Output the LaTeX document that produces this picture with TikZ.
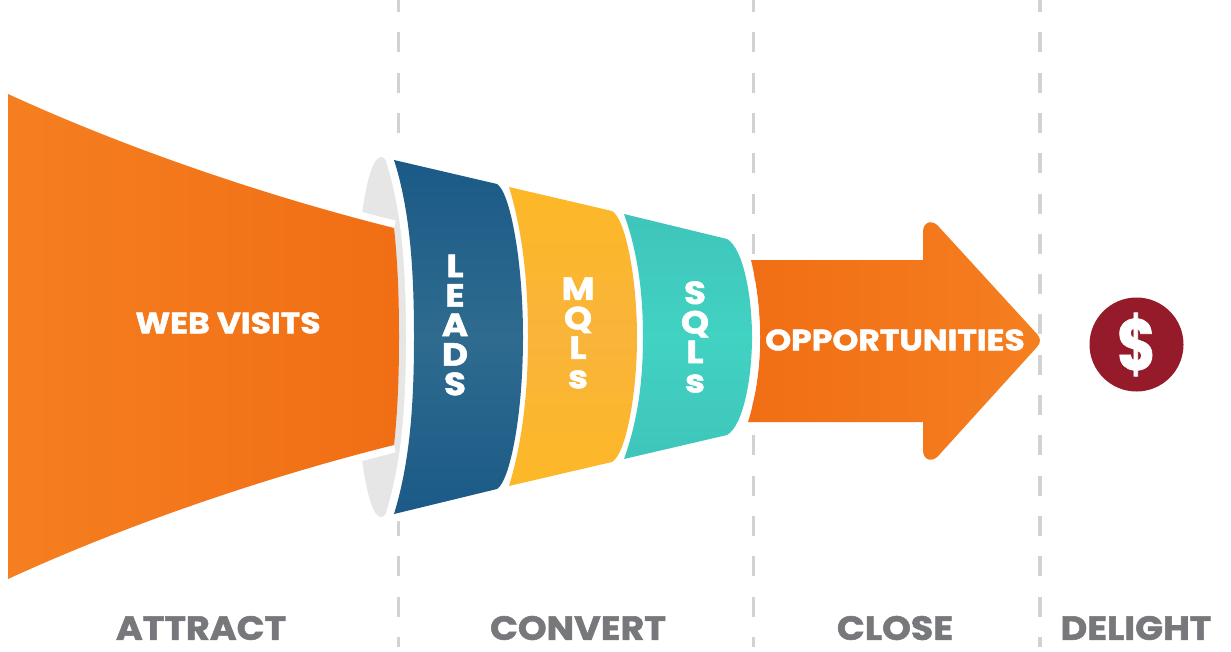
\documentclass[tikz,border=0pt]{standalone}
\usepackage{fontspec}
\newfontfamily\funnelfont[FakeBold=1.6,FakeStretch=1.12]{Poppins}
\newfontfamily\stagefont[FakeBold=1.6,FakeStretch=1.09]{Poppins}
\newfontfamily\dollarfont[FakeBold=1,FakeStretch=0.82]{Poppins}
\definecolor{visitsleft}{HTML}{F57F20}
\definecolor{visitsright}{HTML}{F16E14}
\definecolor{leadsedge}{HTML}{1B5A87}
\definecolor{leadsmid}{HTML}{2F6B8F}
\definecolor{mqledge}{HTML}{FDB827}
\definecolor{mqlmid}{HTML}{F9B43A}
\definecolor{sqledge}{HTML}{3FC5BB}
\definecolor{sqlmid}{HTML}{41D2C2}
\definecolor{rimgray}{HTML}{E6E6E6}
\definecolor{dashgray}{HTML}{D2D2D2}
\definecolor{stagegray}{HTML}{77787B}
\definecolor{dollarred}{HTML}{951B2A}
\tikzset{
  gapline/.style={preaction={draw=white,line width=16pt,line join=round}},
  funneltext/.style={text=white,inner sep=0pt,font=\funnelfont\bfseries\fontsize{29.5}{29.5}\selectfont},
  stacktext/.style={text=white,inner sep=0pt,align=center,font=\funnelfont\bfseries\fontsize{32}{29.5}\selectfont},
  stagetext/.style={text=stagegray,inner sep=0pt,font=\stagefont\bfseries\fontsize{33.5}{33.5}\selectfont},
  stageline/.style={draw=dashgray,line width=3.5pt,dash pattern=on 20pt off 20.3pt}
}
\begin{document}
\begin{tikzpicture}[x=1pt,y=-1pt]
	\useasboundingbox (0,0) rectangle (1231,651);
	\coordinate (attracttop) at (398.5,-8);
	\coordinate (attractend) at (398.5,647);
	\coordinate (converttop) at (753.5,-8);
	\coordinate (convertend) at (753.5,647);
	\coordinate (closetop) at (1040,-8);
	\coordinate (closeend) at (1040,647);
	\draw[stageline] (attracttop) -- (attractend);
	\draw[stageline] (converttop) -- (convertend);
	\draw[stageline] (closetop) -- (closeend);

	% funnel mouth
	\fill[rimgray] (381,337) ellipse (26 and 180);
	\draw[white,line width=15pt] (8,94) .. controls (130,150) and (270,197) .. (394,228);
	\draw[white,line width=15pt] (8,579) .. controls (130,523) and (270,476) .. (394,445);
	\shade[left color=visitsleft,right color=visitsright] (8,94) .. controls (130,150) and (270,197) .. (394,228)
		.. controls (398,265) and (399,300) .. (399,337) .. controls (399,373) and (398,408) .. (394,445)
		.. controls (270,476) and (130,523) .. (8,579) -- cycle;

	% arrow
	\shade[left color=visitsright,right color=visitsleft] (751,260) -- (923,260) -- (923,232)
		.. controls (923,221) and (933,219) .. (939.5,227.5) -- (1037,334)
		.. controls (1041,338.5) and (1041,342.5) .. (1037,347) -- (939.5,454.5)
		.. controls (933,463) and (923,461) .. (923,450) -- (923,422) -- (748,422)
		.. controls (755,400) and (760,370) .. (760,340) .. controls (760,312) and (757,285) .. (751,260) -- cycle;

	% bands
	\shade[gapline,top color=leadsedge,bottom color=leadsedge,middle color=leadsmid] (394,160) -- (497,184)
		.. controls (510,192) and (523,260) .. (523,337) .. controls (523,415) and (510,481) .. (497,489)
		-- (394,514) .. controls (410,462) and (414,404) .. (414,337) .. controls (414,270) and (410,210) .. (394,160) -- cycle;
	\shade[gapline,top color=sqledge,bottom color=sqledge,middle color=sqlmid] (624,214) -- (727,239)
		.. controls (743,248) and (752,295) .. (752,337) .. controls (752,379) and (743,426) .. (727,435)
		-- (624,459) .. controls (638,420) and (643,380) .. (643,337) .. controls (643,294) and (638,253) .. (624,214) -- cycle;
	\shade[top color=mqledge,bottom color=mqledge,middle color=mqlmid] (509,187) -- (612,211)
		.. controls (626,219) and (637,280) .. (637,337) .. controls (637,394) and (626,454) .. (612,462)
		-- (509,486) .. controls (523,440) and (528,390) .. (528,337) .. controls (528,284) and (523,233) .. (509,187) -- cycle;

	\node[funneltext] (visits) at (228,323) {WEB VISITS};
	\node[funneltext] (opportunities) at (895,340) {OPPORTUNITIES};
	\node[stacktext] (leads) at (455,325) {L\\E\\A\\D\\S};
	\node[stacktext] (mqls) at (578,333) {M\\Q\\L\\s};
	\node[stacktext] (sqls) at (695,337) {S\\Q\\L\\s};

	\node[circle,fill=dollarred,minimum size=94pt,inner sep=0pt,text=white,font=\dollarfont\bfseries\fontsize{72}{72}\selectfont] (dollar) at (1136.5,344.5) {\$};

	\node[stagetext] (attract) at (201,628) {ATTRACT};
	\node[stagetext] (convert) at (578,628) {CONVERT};
	\node[stagetext] (close) at (895,628) {CLOSE};
	\node[stagetext] (delight) at (1136,628) {DELIGHT};
\end{tikzpicture}
\end{document}
